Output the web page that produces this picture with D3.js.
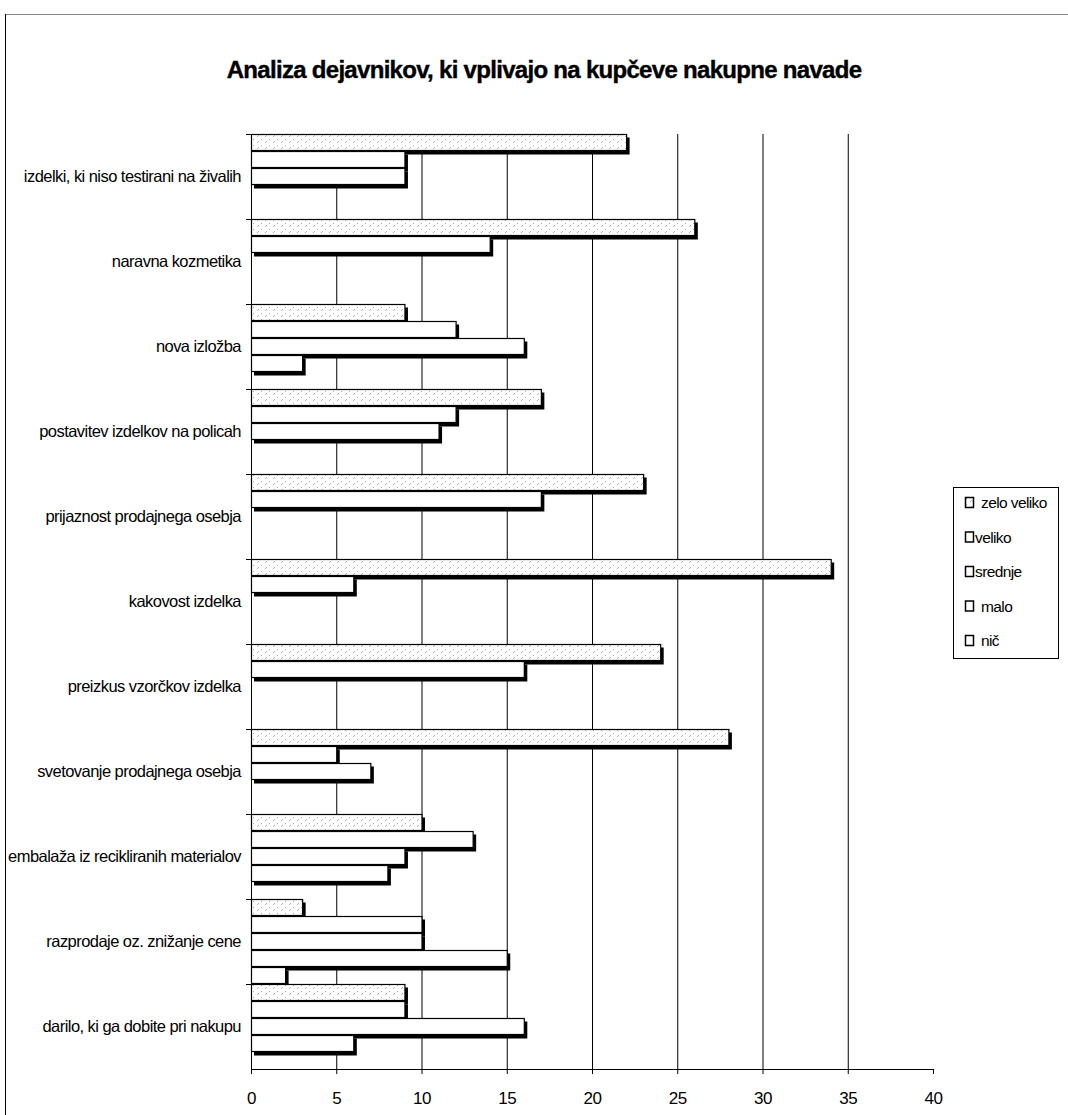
<!DOCTYPE html>
<html><head><meta charset="utf-8">
<script src="https://cdn.jsdelivr.net/npm/d3@7"></script>
<style>
body{margin:0;background:#fff;}
text{font-family:"Liberation Sans Narrow","Arial Narrow","Liberation Sans",Arial,sans-serif;fill:#000;}
</style></head>
<body><svg id="c" width="1068" height="1115"></svg>
<script>
const title = "Analiza dejavnikov, ki vplivajo na kupčeve nakupne navade";
const categories = [
 "izdelki, ki niso testirani na živalih",
 "naravna kozmetika",
 "nova izložba",
 "postavitev izdelkov na policah",
 "prijaznost prodajnega osebja",
 "kakovost izdelka",
 "preizkus vzorčkov izdelka",
 "svetovanje prodajnega osebja",
 "embalaža iz recikliranih materialov",
 "razprodaje oz. znižanje cene",
 "darilo, ki ga dobite pri nakupu"
];
const seriesNames = ["zelo veliko","veliko","srednje","malo","nič"];
const zeloVeliko = [22,26,9,17,23,34,24,28,10,3,9];
const veliko     = [9,14,12,12,17,6,16,5,13,10,9];
const srednje    = [9,0,16,11,0,0,0,7,9,10,16];
const malo       = [0,0,3,0,0,0,0,0,8,15,6];
const nic        = [0,0,0,0,0,0,0,0,0,2,0];
const seriesValues = [zeloVeliko, veliko, srednje, malo, nic];
const xTicks = [0,5,10,15,20,25,30,35,40];

const svg = d3.select("#c");
const defs = svg.append("defs");
const pat = defs.append("pattern").attr("id","hatch").attr("patternUnits","userSpaceOnUse")
  .attr("width",8).attr("height",6);
pat.append("rect").attr("width",8).attr("height",6).attr("fill","#fff");
pat.append("path").attr("d","M1,5 L3,3 M5,2 L6,1").attr("stroke","#999").attr("stroke-width",0.8);

// frame
svg.append("line").attr("x1",5).attr("x2",1068).attr("y1",14.5).attr("y2",14.5).attr("stroke","#888").attr("stroke-width",1.2);
svg.append("line").attr("x1",5.5).attr("x2",5.5).attr("y1",14).attr("y2",1115).attr("stroke","#000").attr("stroke-width",1);

svg.append("text").attr("x",544).attr("y",78).attr("text-anchor","middle")
  .attr("font-size",24).attr("font-weight","bold").attr("letter-spacing","-0.7")
  .attr("stroke","#000").attr("stroke-width",0.4).text(title);

const L=251, R=933, T=134, B=1069;
const x = d3.scaleLinear().domain([0,40]).range([L,R]);
const y = d3.scaleBand().domain(categories).range([T,B]).paddingInner(0).paddingOuter(0);
const ys = d3.scaleBand().domain(seriesNames).range([0,y.bandwidth()]);

// gridlines
svg.append("g").selectAll("line").data(xTicks.filter(d=>d>0 && d<40)).join("line")
  .attr("x1",d=>x(d)+0.5).attr("x2",d=>x(d)+0.5).attr("y1",T).attr("y2",B)
  .attr("stroke","#000").attr("stroke-width",1);

// bars
const bars=[];
categories.forEach((c,i)=>seriesNames.forEach((s,j)=>{
  if(seriesValues[j][i]>0) bars.push({c,s,j,v:seriesValues[j][i]});
}));
const g = svg.append("g");
g.selectAll("rect.sh").data(bars).join("rect").attr("class","sh")
  .attr("x",x(0)+3).attr("y",d=>y(d.c)+ys(d.s)+3.5)
  .attr("width",d=>x(d.v)-x(0)+0.5).attr("height",ys.bandwidth()).attr("fill","#000");
g.selectAll("rect.b").data(bars).join("rect").attr("class","b")
  .attr("x",x(0)+0.5).attr("y",d=>y(d.c)+ys(d.s)+0.5)
  .attr("width",d=>x(d.v)-x(0)).attr("height",ys.bandwidth()-1)
  .attr("fill",d=>d.j===0?"url(#hatch)":"#fff").attr("stroke","#000").attr("stroke-width",1.2);

// x axis
const xa = svg.append("g").attr("transform",`translate(0,${B})`)
  .call(d3.axisBottom(x).tickValues(xTicks).tickSize(5).tickSizeOuter(0).tickPadding(18));
xa.select(".domain").attr("stroke","#000");
xa.selectAll("text").attr("font-size",17).attr("letter-spacing","-0.5")
  .attr("font-family",'"Liberation Sans Narrow","Liberation Sans",Arial,sans-serif').attr("fill","#000");

// y axis
const ya = svg.append("g").attr("transform",`translate(${L},0)`)
  .call(d3.axisLeft(y).tickSize(0).tickPadding(10));
ya.select(".domain").attr("stroke","#000");
ya.selectAll("text").attr("font-size",16.5).attr("letter-spacing","-0.55")
  .attr("font-family",'"Liberation Sans Narrow","Liberation Sans",Arial,sans-serif').attr("fill","#000");
svg.append("g").selectAll("line").data(categories).join("line")
  .attr("x1",L-5).attr("x2",L).attr("y1",d=>y(d)+0.5).attr("y2",d=>y(d)+0.5).attr("stroke","#000");

// legend
const lg = svg.append("g").attr("transform","translate(953,487)");
lg.append("rect").attr("x",0.5).attr("y",0.5).attr("width",105).attr("height",171).attr("fill","#fff").attr("stroke","#000");
lg.selectAll("g").data(seriesNames).join("g").attr("transform",(d,i)=>`translate(0,${16+i*34.5})`)
  .each(function(d,i){
    const e=d3.select(this);
    e.append("rect").attr("x",12.5).attr("y",-5.5).attr("width",8).attr("height",10).attr("fill",i===0?"url(#hatch)":"#fff").attr("stroke","#000").attr("stroke-width",1.5);
    e.append("text").attr("x",i===0||i>=3?28:22).attr("y",5).attr("font-size",15.5).attr("letter-spacing","-0.6").text(d);
  });
</script></body></html>
